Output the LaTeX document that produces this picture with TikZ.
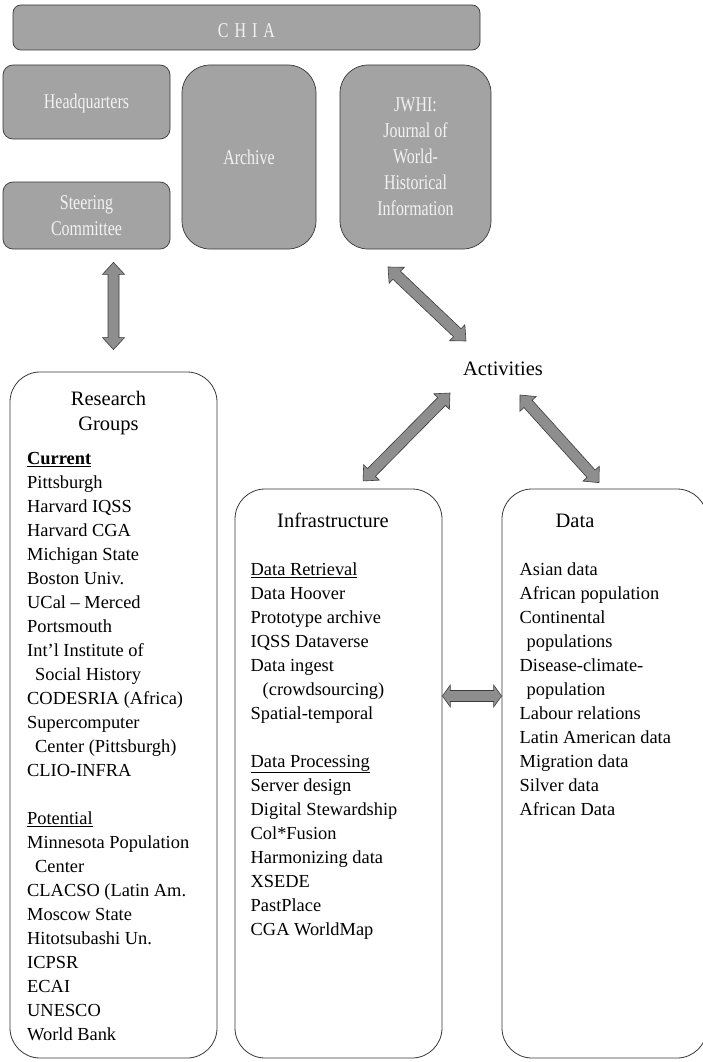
\documentclass[tikz,border=0pt]{standalone}
\usepackage{fontspec}
\setmainfont{Liberation Serif}
\newfontfamily\condfont[FakeStretch=0.76]{Liberation Serif}
\usepackage{tikz}
\usetikzlibrary{calc}

\definecolor{boxgray}{RGB}{163,163,163}
\definecolor{boxedge}{RGB}{55,55,55}
\definecolor{boxtext}{RGB}{242,242,242}
\definecolor{arrowgray}{RGB}{142,142,142}
\definecolor{arrowedge}{RGB}{60,60,60}

\def\fatgapa{0pt}\def\fatgapb{0pt}\def\fathead{12pt}

\tikzset{
  topbox/.style={draw=boxedge, fill=boxgray, text=boxtext, line width=0.7pt, align=center,
    font=\condfont\fontsize{21}{26}\selectfont},
  listbox/.style={draw=boxedge, line width=0.8pt, rounded corners=30pt},
  headtext/.style={font=\fontsize{20.5}{25}\selectfont, align=center, inner sep=0pt},
  listtext/.style={font=\fontsize{18.4}{24}\selectfont, align=left, inner sep=0pt, anchor=north west},
  gaps/.code 2 args={\def\fatgapa{#1}\def\fatgapb{#2}},
  headlen/.code={\def\fathead{#1}},
  fat/.style={draw=arrowedge, fill=arrowgray, line width=0.6pt, line join=miter, to path={
    let \p1=($(\tikztostart)!\fatgapa!(\tikztotarget)$),
        \p2=($(\tikztotarget)!\fatgapb!(\tikztostart)$),
        \n1={atan2((\y2)-(\y1),(\x2)-(\x1))}, \n2={veclen((\x2)-(\x1),(\y2)-(\y1))} in
    ([shift={(\p1)},rotate=\n1]0pt,0pt)
    -- ([shift={(\p1)},rotate=\n1]\fathead,11pt)
    -- ([shift={(\p1)},rotate=\n1]\fathead,5.5pt)
    -- ([shift={(\p1)},rotate=\n1]{\n2-\fathead},5.5pt)
    -- ([shift={(\p1)},rotate=\n1]{\n2-\fathead},11pt)
    -- ([shift={(\p1)},rotate=\n1]\n2,0pt)
    -- ([shift={(\p1)},rotate=\n1]{\n2-\fathead},-11pt)
    -- ([shift={(\p1)},rotate=\n1]{\n2-\fathead},-5.5pt)
    -- ([shift={(\p1)},rotate=\n1]\fathead,-5.5pt)
    -- ([shift={(\p1)},rotate=\n1]\fathead,-11pt)
    -- cycle}},
}

\begin{document}
\begin{tikzpicture}[x=1pt,y=-1pt]
        \useasboundingbox (0,0) rectangle (702,1062);
        % 顶部灰色框
        \node (chia) [topbox, rounded corners=8pt, minimum width=467pt, minimum height=45pt, text height=20pt] at (246.5,27.5) {C\hspace{6pt}H\hspace{6pt}I\hspace{6pt}A};
        \node (hq) [topbox, rounded corners=10pt, minimum width=167pt, minimum height=74pt, text height=17pt] at (86.5,102) {Headquarters};
        \node (steer) [topbox, rounded corners=10pt, minimum width=167pt, minimum height=67pt] at (86.5,215.5) {Steering\\Committee};
        \node (archive) [topbox, rounded corners=28pt, minimum width=134pt, minimum height=184pt] at (249,157) {Archive};
        \node (jwhi) [topbox, rounded corners=28pt, minimum width=151pt, minimum height=184pt] at (415.5,157) {JWHI:\\Journal of\\World-\\Historical\\Information};
        % 下方三个框
        \node (groups) [listbox, minimum width=207pt, minimum height=686pt] at (113.5,715) {};
        \node (infra) [listbox, minimum width=207pt, minimum height=569pt] at (338.5,773.5) {};
        \node (data) [listbox, minimum width=205pt, minimum height=569pt] at (604.5,773.5) {};
        % 标题
        \node (rgtitle) [headtext, anchor=north] at (108.5,387.5) {\strut Research\\Groups};
        \node (inftitle) [headtext, anchor=base] at (333,527) {Infrastructure};
        \node (datatitle) [headtext, anchor=base] at (575,527) {Data};
        \node (act) [headtext, anchor=base] at (503,375) {Activities};
        % 列表
        \node (rglist) [listtext] at (27,447.2) {\strut\textbf{\underline{Current}}\\ Pittsburgh\\ Harvard IQSS\\ Harvard CGA\\ Michigan State\\ Boston Univ.\\ UCal -- Merced\\ Portsmouth\\ Int’l Institute of\\ \hspace*{8pt}Social History\\ CODESRIA (Africa)\\ Supercomputer\\ \hspace*{8pt}Center (Pittsburgh)\\ CLIO-INFRA\\[24pt] \underline{Potential}\\ Minnesota Population\\ \hspace*{8pt}Center\\ CLACSO (Latin Am.\\ Moscow State\\ Hitotsubashi Un.\\ ICPSR\\ ECAI\\ UNESCO\\ World Bank};
        \node (inflist) [listtext] at (250.5,558.2) {\strut\underline{Data Retrieval}\\ Data Hoover\\ Prototype archive\\ IQSS Dataverse\\ Data ingest\\ \hspace*{12pt}(crowdsourcing)\\ Spatial-temporal\\[24pt] \underline{Data Processing}\\ Server design\\ Digital Stewardship\\ Col*Fusion\\ Harmonizing data\\ XSEDE\\ PastPlace\\ CGA WorldMap};
        \node (datalist) [listtext] at (519.5,558.2) {\strut Asian data\\ African population\\ Continental\\ \hspace*{7pt}populations\\ Disease-climate-\\ \hspace*{7pt}population\\ Labour relations\\ Latin American data\\ Migration data\\ Silver data\\ African Data};
        % 双向箭头
        \coordinate (arcA) at (388,267);
        \coordinate (actA) at (466,341);
        \coordinate (actB) at (450,393);
        \coordinate (infT) at (363,481);
        \coordinate (actC) at (520,395);
        \coordinate (hmid) at (472,696);
        \draw [fat, gaps={13pt}{22pt}] (steer.south -| groups.north) to (groups.north);
        \draw [fat] (arcA) to (actA);
        \draw [fat] (actB) to (infT);
        \draw [fat, gaps={0pt}{8pt}] (actC) to (data.north);
        \draw [fat, headlen=8pt] (infra.east |- hmid) to (data.west |- hmid);
    \end{tikzpicture}
\end{document}
